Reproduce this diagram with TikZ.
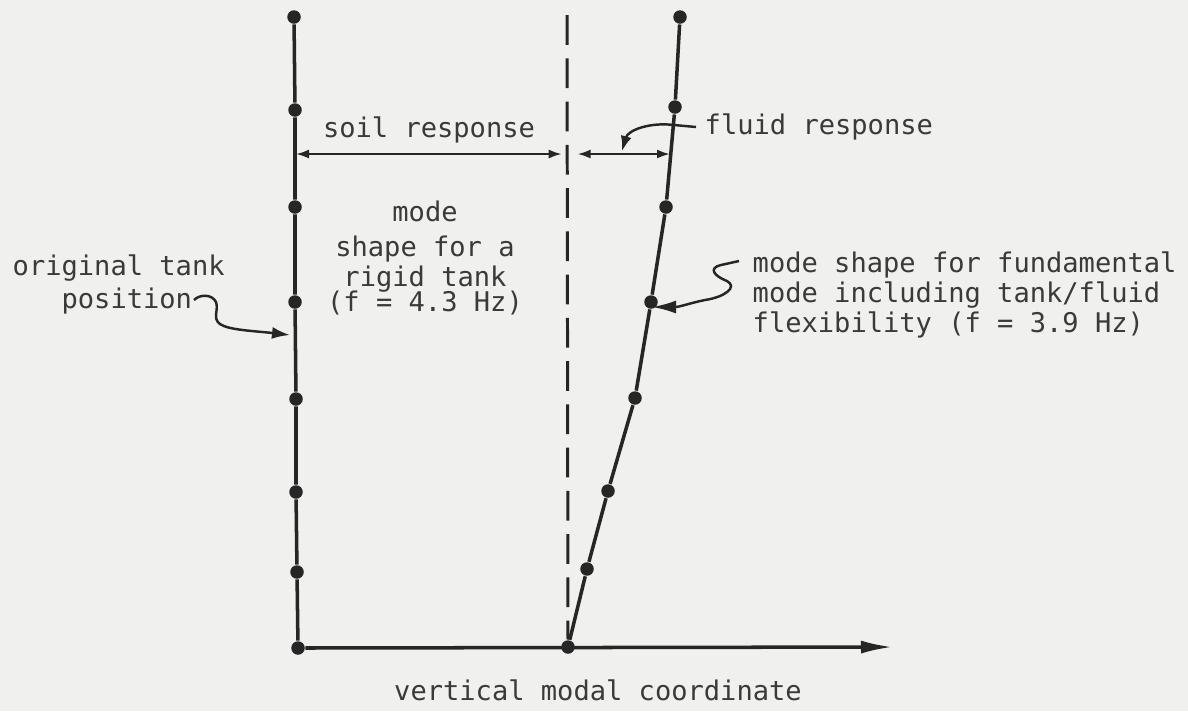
\documentclass[tikz,border=0pt]{standalone}
\usepackage{fontspec}
\usepackage{tikz}
\usetikzlibrary{arrows.meta,positioning,calc}
\newfontfamily\plotfont{DejaVu Sans Mono}
\definecolor{inkgray}{HTML}{262626}
\definecolor{textgray}{HTML}{3A3A3A}
\definecolor{paper}{HTML}{F0F0EE}
\tikzset{
  massline/.style={line width=1pt, draw=inkgray},
  massdot/.style={circle, fill=inkgray, inner sep=0pt, minimum size=0.135cm},
  centerline/.style={line width=0.85pt, draw=inkgray, dash pattern=on 8.5pt off 3.8pt},
  dimarrow/.style={{Latex[length=1.3mm,width=0.9mm]}-{Latex[length=1.3mm,width=0.9mm]},
    line width=0.6pt, draw=inkgray},
  leader/.style={-{Latex[length=1.5mm,width=1.1mm]}, line width=0.7pt, draw=inkgray},
  plottext/.style={font=\plotfont\fontsize{7.7}{8.5}\selectfont, text=textgray, inner sep=0pt}
}

\begin{document}
\begin{tikzpicture}[x=0.01cm, y=-0.01cm]
    \fill[paper] (0,0) rectangle (1188,711);
    \useasboundingbox (0,0) rectangle (1188,711);

    % original tank position
    \node[massdot] (t0) at (294,17) {};
    \node[massdot] (t1) at (295,110) {};
    \node[massdot] (t2) at (295,207) {};
    \node[massdot] (t3) at (295,302) {};
    \node[massdot] (t4) at (296,399) {};
    \node[massdot] (t5) at (296,492) {};
    \node[massdot] (t6) at (297,572) {};
    \node[massdot] (t7) at (298,648) {};

    % fundamental mode shape
    \node[massdot] (m0) at (680,17) {};
    \node[massdot] (m1) at (675,107) {};
    \node[massdot] (m2) at (666,207) {};
    \node[massdot] (m3) at (651,302) {};
    \node[massdot] (m4) at (635,398) {};
    \node[massdot] (m5) at (608,491) {};
    \node[massdot] (m6) at (587,569) {};
    \node[massdot] (m7) at (568,647) {};

    \coordinate (ctop) at (567,15);
    \coordinate (axisend) at (893,647);
    \coordinate (dimL) at (296,154);
    \coordinate (dimM) at (567,154);
    \coordinate (dimR) at (670,154);

    \node[plottext] (soiltxt) at (429,130) {soil response};
    \node[plottext, anchor=west] (fluidtxt) at (704,127) {fluid response};
    \node[plottext, align=center] (modetxt) at (425,258)
      {mode\\[1.45pt]shape for a\\rigid tank\\[-1.4pt](f = 4.3 Hz)};
    \node[plottext, anchor=west, align=left] (origtxt) at (12,284)
      {original tank\\[0.9pt]~~~position};
    \node[plottext, anchor=west, align=left] (spectxt) at (752,295)
      {mode shape for fundamental\\mode including tank/fluid\\flexibility (f = 3.9 Hz)};
    \node[plottext] (axistxt) at (598,690) {vertical modal coordinate};

    \coordinate (fluidtip) at (622,151);
    \coordinate (sstart) at (739,261);
    \coordinate (stip) at (652,307);
    \coordinate (origstart) at (194,300);
    \coordinate (origtip) at (290,335);

    \draw[centerline] (ctop) -- (m7);
    \draw[massline] (t0) -- (t1) -- (t2) -- (t3) -- (t4) -- (t5) -- (t6) -- (t7);
    \draw[massline] (m0) -- (m1) -- (m2) -- (m3) -- (m4) -- (m5) -- (m6) -- (m7);
    \draw[massline, -{Latex[length=3.2mm,width=1.3mm]}] (t7) -- (axisend);

    \draw[dimarrow, shorten >=1.5pt] (dimL) -- (dimM);
    \draw[dimarrow, shorten <=3pt] (dimM) -- (dimR);

    \draw[leader] ($(fluidtxt.west)+(-8,0)$) -- (674,125)
      .. controls (650,122) and (628,130) .. (fluidtip);
    \draw[leader, -{Latex[length=2.4mm,width=1.3mm]}] (sstart) -- (721,265)
      .. controls (708,268) and (714,276) .. (727,281)
      .. controls (738,287) and (725,297) .. (705,300)
      .. controls (690,303) and (680,307) .. (stip);
    \draw[leader, -{Latex[length=1.8mm,width=1.2mm]}] (origstart)
      .. controls (200,294) and (212,294) .. (216,302)
      .. controls (219,310) and (212,318) .. (220,324)
      .. controls (228,330) and (255,331) .. (origtip);
\end{tikzpicture}
\end{document}
